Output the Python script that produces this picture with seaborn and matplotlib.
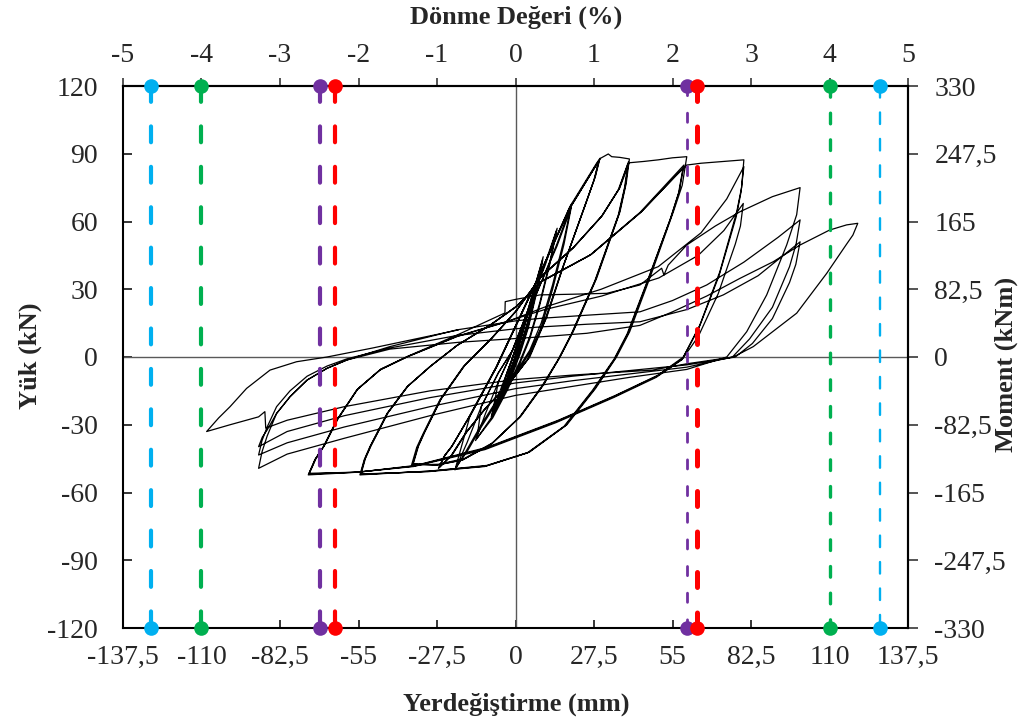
import matplotlib
matplotlib.use("Agg")
import matplotlib.pyplot as plt
import numpy as np
import pandas as pd
import seaborn as sns

# ---------------------------------------------------------------------------
# Load (kN) - displacement (mm) record, one list of (disp, load) vertices per
# displacement level, in loading order.
# ---------------------------------------------------------------------------
loop_05 = [(0.0, 0.0), (2.0, 9.0), (4.5, 20.0), (3.0, 13.0), (1.0, 4.0), (-1.0, -4.0), (-3.5, -12.0),
           (-1.5, -5.0), (0.5, 3.0), (2.5, 12.0), (4.5, 20.0), (2.5, 11.0), (0.5, 2.0), (-1.5, -5.0), (-3.5, -12.0)]

loop_07 = [(-1.0, 0.0), (2.0, 11.0), (4.5, 20.0), (7.0, 30.0), (5.0, 19.0), (2.0, 6.0), (-0.5, -3.0),
           (-3.0, -10.0), (-5.4, -17.6), (-3.5, -9.0), (-1.0, 0.0), (2.0, 11.0), (4.5, 20.0), (6.8, 29.0),
           (5.0, 18.0), (2.0, 5.0), (-0.5, -4.0), (-3.0, -11.0), (-5.2, -17.0)]

loop_10 = [(-3.0, -7.0), (0.0, 3.0), (3.0, 15.0), (6.5, 30.0), (9.7, 44.4), (7.5, 30.0), (4.5, 14.0),
           (1.5, 2.0), (-1.5, -8.0), (-5.0, -17.0), (-8.5, -26.4), (-6.0, -17.0), (-3.0, -7.0), (0.0, 3.0),
           (3.0, 15.0), (6.5, 30.0), (9.5, 43.0), (7.5, 29.0), (4.5, 13.0), (1.5, 1.0), (-1.5, -9.0),
           (-5.0, -18.0), (-8.3, -26.0)]

loop_15 = [(-6.0, -11.0), (-2.0, 0.0), (2.0, 13.0), (6.0, 26.0), (10.5, 42.0), (14.6, 57.0), (12.0, 42.0),
           (8.5, 24.0), (5.0, 9.0), (1.5, -2.0), (-3.0, -14.0), (-8.0, -26.0), (-14.0, -37.0), (-10.5, -25.0),
           (-6.0, -11.0), (-2.0, 0.0), (2.0, 13.0), (6.0, 26.0), (10.5, 41.0), (14.4, 56.0), (12.0, 41.0),
           (8.5, 23.0), (5.0, 8.0), (1.5, -3.0), (-3.0, -15.0), (-8.0, -27.0), (-13.5, -36.0)]

loop_20 = [(-12.0, -22.0), (-6.0, -7.0), (-1.0, 3.0), (4.0, 18.0), (9.0, 33.0), (14.5, 50.0), (19.7, 68.0),
           (17.0, 52.0), (13.0, 32.0), (9.0, 15.0), (5.0, 3.0), (1.0, -5.0), (-5.0, -16.0), (-12.0, -30.0),
           (-17.0, -41.0), (-21.2, -50.0), (-17.0, -38.0), (-12.0, -22.0), (-6.0, -7.0), (-1.0, 3.0),
           (4.0, 18.0), (9.0, 33.0), (14.5, 49.0), (19.5, 66.0), (17.0, 50.0), (13.0, 30.0), (9.0, 13.0),
           (5.0, 2.0), (1.0, -6.0), (-5.0, -17.0), (-12.0, -31.0), (-17.0, -42.0), (-21.0, -49.0)]

loop_30 = [(-16.0, -26.4), (-6.6, -4.3), (1.6, 17.8), (9.7, 40.0), (19.0, 66.5), (28.4, 85.8), (29.6, 88.0),
           (28.0, 80.0), (25.0, 69.5), (16.7, 40.0), (11.0, 17.8), (5.0, 0.0), (-2.0, -11.5), (-10.0, -22.0),
           (-17.0, -33.0), (-22.0, -43.0), (-27.0, -49.3),
           (-25.0, -44.0), (-22.5, -40.0), (-16.5, -27.0), (-7.0, -5.0), (1.2, 17.0), (9.3, 39.0), (18.6, 65.0),
           (28.0, 84.5), (29.3, 87.0),
           (27.7, 79.0), (24.8, 68.5), (16.4, 39.0), (10.6, 17.0), (4.6, -0.5), (-2.4, -12.0), (-10.4, -22.5),
           (-17.4, -33.5), (-22.4, -43.5), (-26.8, -49.0),
           (-24.8, -43.6), (-22.3, -39.5), (-16.2, -26.5), (-6.8, -4.6), (1.4, 17.4), (9.5, 39.5), (18.8, 65.5),
           (27.8, 84.0), (29.0, 86.0),
           (27.4, 78.0), (24.6, 68.0), (16.2, 38.5), (10.4, 16.5), (4.3, -1.0), (-2.7, -12.5), (-10.7, -23.0),
           (-17.6, -34.0), (-22.6, -43.8), (-26.6, -48.7)]

loop_40 = [(-24.6, -43.3), (-22.1, -39.2), (-16.0, -26.2), (-6.5, -4.2), (1.6, 17.6), (9.7, 39.8), (19.0, 65.8),
           (28.5, 85.5), (29.8, 88.0), (32.5, 89.9), (33.7, 88.7), (36.5, 88.4), (39.9, 87.7),
           (38.8, 77.0), (36.6, 64.3), (28.4, 34.8), (20.2, 11.2), (15.6, 0.0), (10.0, -12.0), (2.0, -26.0),
           (-8.0, -38.0), (-18.0, -45.0), (-27.0, -47.5), (-36.4, -47.8),
           (-34.6, -40.0), (-32.3, -33.8), (-26.5, -19.0), (-18.3, -4.3), (-9.0, 7.5), (0.0, 20.0), (8.6, 35.0),
           (20.0, 48.0), (30.0, 62.0), (36.0, 74.0), (39.6, 86.5),
           (38.5, 76.0), (36.3, 63.5), (28.0, 34.0), (19.8, 10.5), (15.2, -0.8), (9.6, -12.5), (1.6, -26.5),
           (-8.4, -38.5), (-18.4, -45.5), (-27.4, -47.8), (-36.0, -47.5),
           (-34.2, -39.7), (-32.0, -33.5), (-26.2, -18.7), (-18.0, -4.0), (-8.7, 7.8), (0.3, 20.5), (8.9, 35.5),
           (20.3, 48.5), (30.3, 62.5), (36.3, 74.5), (39.4, 85.5),
           (38.2, 75.0), (36.0, 62.8), (27.7, 33.4), (19.5, 10.0), (14.9, -1.2), (9.3, -12.8), (1.3, -26.8),
           (-8.7, -38.8), (-18.7, -45.7), (-27.7, -47.9), (-35.8, -47.2)]

loop_60 = [(-34.0, -39.5), (-31.8, -33.3), (-26.0, -18.5), (-17.8, -3.8), (-8.5, 8.0), (0.5, 20.8), (9.1, 35.8),
           (20.5, 48.8), (30.5, 62.8), (36.5, 74.8), (39.8, 86.0), (45.0, 86.6), (50.0, 87.3), (55.0, 88.2),
           (60.0, 88.7),
           (58.4, 76.0), (55.3, 64.3), (47.0, 34.8), (40.0, 11.2), (35.4, 0.0), (28.0, -14.0), (18.0, -30.0),
           (5.0, -42.0), (-10.0, -48.0), (-30.0, -50.5), (-54.5, -52.2),
           (-53.0, -45.5), (-51.0, -39.7), (-45.0, -25.0), (-38.0, -13.2), (-30.0, -4.3), (-20.6, 5.0),
           (-9.0, 14.0), (0.0, 22.0), (8.6, 33.0), (26.0, 45.0), (43.6, 64.0), (59.0, 85.0),
           (57.4, 73.5), (54.5, 62.0), (46.3, 33.5), (39.4, 10.5), (34.8, -0.8), (27.4, -14.5), (17.4, -30.5),
           (4.5, -42.3), (-10.4, -48.3), (-30.4, -50.6), (-54.3, -52.0),
           (-52.8, -45.3), (-50.8, -39.5), (-44.8, -24.8), (-37.8, -13.0), (-29.8, -4.1), (-20.4, 5.2),
           (-8.7, 14.3), (0.3, 22.4), (9.0, 33.4), (26.4, 45.3), (44.0, 64.2), (58.7, 83.7),
           (57.1, 72.5), (54.2, 61.0), (46.0, 33.0), (39.1, 10.2), (34.5, -1.0), (27.0, -14.7), (17.0, -30.7),
           (4.1, -42.5), (-10.8, -48.5), (-30.8, -50.8), (-54.1, -51.8)]

loop_80 = [(-52.6, -45.0), (-50.6, -39.3), (-44.6, -24.6), (-37.6, -12.8), (-29.6, -3.9), (-20.2, 5.4),
           (-8.5, 14.5), (0.5, 22.6), (9.2, 33.6), (26.6, 45.5), (44.2, 64.4), (56.0, 80.0), (60.0, 85.0),
           (65.0, 85.8), (70.0, 86.3), (75.0, 86.8), (80.0, 87.3),
           (79.2, 75.0), (77.5, 64.3), (71.6, 37.8), (64.6, 14.2), (58.8, 0.0), (50.0, -8.0), (35.0, -17.0),
           (15.0, -28.0), (-10.0, -40.0), (-35.0, -48.0), (-55.0, -51.0), (-72.6, -52.2),
           (-70.3, -45.5), (-67.3, -39.7), (-62.6, -27.9), (-55.6, -14.6), (-47.5, -5.8), (-38.0, 0.0),
           (-20.6, 9.0), (-3.0, 15.6), (10.0, 22.0), (30.0, 30.0), (50.0, 40.0), (65.0, 55.0), (74.0, 70.0),
           (80.0, 84.3),
           (79.0, 73.0), (77.3, 62.0), (71.3, 36.0), (64.3, 13.0), (58.5, -0.8), (49.5, -8.5), (34.5, -17.5),
           (14.5, -28.5), (-10.5, -40.5), (-35.5, -48.3), (-55.3, -51.0), (-72.4, -51.8),
           (-70.1, -45.2), (-67.1, -39.4), (-62.4, -27.6), (-55.4, -14.3), (-47.3, -5.5), (-37.8, 0.2),
           (-20.4, 9.2), (-2.8, 15.8), (10.2, 21.0), (30.2, 27.0), (50.2, 35.0), (64.0, 45.0), (73.0, 56.0),
           (79.8, 68.0),
           (78.8, 58.0), (77.0, 50.0), (71.0, 28.0), (64.0, 9.0), (58.3, -1.2), (49.3, -9.0), (34.3, -18.0),
           (14.3, -29.0), (-10.7, -41.0), (-35.7, -48.5), (-55.5, -51.0), (-72.2, -51.5)]

loop_100 = [(-69.9, -45.0), (-66.9, -39.1), (-62.2, -27.4), (-55.2, -14.1), (-47.1, -5.3), (-37.6, 0.4),
            (-20.0, 10.0), (-8.0, 17.0), (-3.7, 19.5), (-3.6, 24.5), (0.0, 25.5), (8.6, 27.5), (20.0, 27.8),
            (32.0, 28.2), (43.6, 31.9), (51.2, 39.3), (52.0, 36.3), (53.5, 40.7), (60.0, 49.6), (70.0, 58.0),
            (78.6, 64.3), (90.0, 71.0), (96.0, 73.5), (99.7, 75.0),
            (98.5, 63.0), (95.0, 49.6), (88.0, 27.5), (81.0, 11.2), (74.0, 0.0), (60.0, -5.5), (40.0, -9.0),
            (20.0, -13.0), (0.0, -17.0), (-30.0, -26.0), (-60.0, -36.0), (-80.0, -43.0), (-90.0, -49.3),
            (-88.8, -42.0), (-87.0, -35.0), (-83.7, -25.0), (-79.0, -17.6), (-73.0, -10.2), (-66.0, -5.0),
            (-59.0, -1.3), (-44.0, 4.6), (-20.6, 12.0), (0.0, 16.0), (8.6, 17.1), (25.0, 18.5), (43.6, 20.0),
            (55.0, 25.0), (67.0, 31.9), (80.0, 42.0), (92.0, 53.0), (99.7, 60.7),
            (98.3, 50.0), (96.0, 40.0), (90.0, 22.0), (82.0, 8.0), (76.0, 0.0), (60.0, -4.5), (40.0, -7.5),
            (20.0, -10.5), (0.0, -14.0), (-30.0, -22.0), (-60.0, -31.0), (-80.0, -38.0), (-90.0, -43.4),
            (-88.8, -37.0), (-87.0, -31.0), (-83.7, -22.0), (-79.0, -15.0), (-73.0, -8.5), (-66.0, -4.0),
            (-59.0, -0.8), (-44.0, 4.0), (-20.6, 9.5), (0.0, 12.5), (8.6, 13.3), (25.0, 14.5), (43.6, 15.6),
            (60.0, 21.0), (72.8, 27.5), (85.0, 36.0), (99.7, 51.0),
            (98.2, 41.0), (96.0, 33.0), (90.0, 17.0), (83.0, 6.0), (77.0, 0.0), (60.0, -3.5), (40.0, -6.0),
            (20.0, -8.5), (0.0, -11.5), (-30.0, -18.0), (-60.0, -26.0), (-80.0, -33.0), (-90.0, -39.7)]

loop_120 = [(-88.7, -35.5), (-87.0, -32.3), (-83.7, -25.0), (-79.0, -17.6), (-73.0, -10.2), (-66.0, -5.0),
            (-59.0, -1.3), (-44.0, 3.5), (-20.0, 6.5), (0.0, 8.2), (8.6, 8.9), (25.0, 10.5), (43.6, 14.0),
            (55.0, 20.0), (67.0, 27.0), (78.6, 34.8), (90.3, 42.2), (99.7, 49.6), (110.0, 56.2), (116.0, 58.5),
            (119.9, 59.2),
            (118.2, 54.0), (116.0, 50.0), (109.0, 37.0), (98.5, 19.4), (83.3, 4.6), (76.3, 0.0), (60.0, -3.0),
            (48.0, -5.8), (20.0, -8.0), (0.0, -10.0), (-30.0, -15.0), (-60.0, -22.0), (-80.0, -28.0),
            (-87.5, -31.5), (-87.8, -24.2), (-90.0, -26.5), (-100.0, -30.0), (-108.2, -33.0),
            (-104.0, -27.0), (-100.0, -22.0), (-94.2, -13.9), (-86.0, -5.8), (-76.7, -2.1), (-66.0, 0.0),
            (-50.0, 4.0), (-35.0, 8.0), (-20.0, 12.0)]

# Limit-state drift marks (mm) and their colours
limit_pos = [-127.6, -110.0, -68.5, -63.3, 60.0, 63.5, 110.0, 127.8]
limit_col = ["#00B0F0", "#00B050", "#7030A0", "#FF0000",
             "#7030A0", "#FF0000", "#00B050", "#00B0F0"]

# Axis tick values
disp_ticks = [-137.5, -110, -82.5, -55, -27.5, 0, 27.5, 55, 82.5, 110, 137.5]
load_ticks = [-120, -90, -60, -30, 0, 30, 60, 90, 120]
drift_ticks = [-5, -4, -3, -2, -1, 0, 1, 2, 3, 4, 5]
moment_ticks = [-330, -247.5, -165, -82.5, 0, 82.5, 165, 247.5, 330]

H_MM = 27.5     # 1 % drift = 27.5 mm
ARM_M = 2.75    # moment arm (m): kNm = kN * 2.75

# ---------------------------------------------------------------------------
sns.set_style("white")
plt.rcParams["font.family"] = ["Liberation Serif", "DejaVu Serif"]
plt.rcParams["axes.unicode_minus"] = False

W, Hh = 1022, 725
fig = plt.figure(figsize=(W / 100, Hh / 100), dpi=100)
ax = fig.add_axes([123 / W, 1 - 628 / Hh, 785 / W, 542 / Hh])

record = (loop_05 + loop_07 + loop_10 + loop_15 + loop_20 + loop_30 + loop_40
          + loop_60 + loop_80 + loop_100 + loop_120)
df = pd.DataFrame(record, columns=["disp", "load"])

ax.axhline(0, color="#595959", lw=1.0, zorder=1)
ax.axvline(0, color="#595959", lw=1.0, zorder=1)

sns.lineplot(data=df, x="disp", y="load", sort=False, estimator=None,
             color="black", lw=0.9, ax=ax, zorder=2)

# dashed limit lines: (line width pt, dash on/off)
styles = [(3.0, (3.8, 5.9)), (3.0, (3.8, 5.9)), (3.0, (3.8, 5.9)), (3.0, (3.8, 5.9)),
          (2.0, (3.3, 6.3)), (3.6, (3.0, 5.1)), (2.4, (3.2, 4.8)), (1.7, (4.9, 6.3))]
for xp, col, (lw, dash) in zip(limit_pos, limit_col, styles):
    ax.plot([xp, xp], [120, -120], color=col, lw=lw, linestyle=(0, dash),
            dash_capstyle="round", zorder=4, clip_on=False)

for xp, col in zip(limit_pos, limit_col):
    ax.plot([xp, xp], [120, -120], "o", color=col, ms=10.5, mec="none",
            linestyle="none", zorder=6, clip_on=False)

ax.set_xlim(-137.5, 137.5)
ax.set_ylim(-120, 120)


def fmt(v):
    return f"{v:g}".replace(".", ",")


ax.set_xticks(disp_ticks)
ax.set_xticklabels([fmt(v) for v in disp_ticks])
ax.set_yticks(load_ticks)
ax.set_yticklabels([fmt(v) for v in load_ticks])
ax.set_xlabel("")
ax.set_ylabel("")
ax.tick_params(axis="x", direction="in", length=6, width=1.1, labelsize=20, pad=12,
               top=False, bottom=True, color="black")
ax.tick_params(axis="y", direction="in", length=6.5, width=1.1, labelsize=20, pad=18,
               left=True, right=False, color="black")

top = ax.secondary_xaxis("top", functions=(lambda x: x / H_MM, lambda p: p * H_MM))
top.set_xticks(drift_ticks)
top.set_xticklabels([fmt(v) for v in drift_ticks])
top.tick_params(direction="out", length=6, width=1.1, labelsize=20, pad=7)

right = ax.secondary_yaxis("right", functions=(lambda y: y * ARM_M, lambda m: m / ARM_M))
right.set_yticks(moment_ticks)
right.set_yticklabels([fmt(v) for v in moment_ticks])
right.tick_params(direction="out", length=7, width=1.1, labelsize=20, pad=12)

for a in (ax, top, right):
    for s in a.spines.values():
        s.set_linewidth(1.5)
        s.set_color("black")

fig.text(516 / W, 1 - 17 / Hh, "Dönme Değeri (%)", ha="center", va="center",
         fontsize=19, fontweight="bold")
fig.text(516 / W, 1 - 704 / Hh, "Yerdeğiştirme (mm)", ha="center", va="center",
         fontsize=19, fontweight="bold")
fig.text(30 / W, 1 - 356 / Hh, "Yük (kN)", ha="center", va="center", rotation=90,
         fontsize=19, fontweight="bold")
fig.text(1006 / W, 1 - 364 / Hh, "Moment (kNm)", ha="center", va="center", rotation=90,
         fontsize=19, fontweight="bold")

fig.savefig("out.png", dpi=100)
